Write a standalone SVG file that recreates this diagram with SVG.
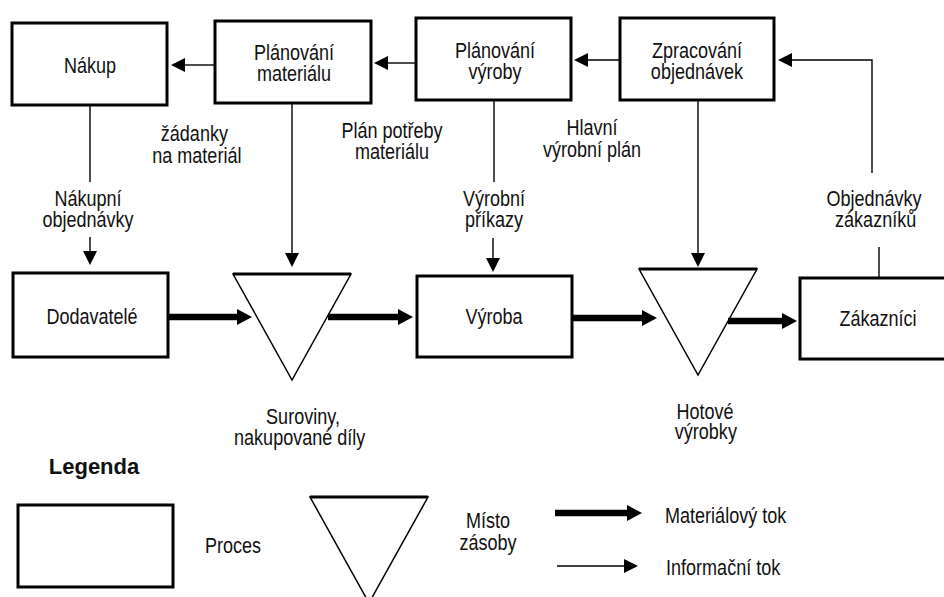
<svg xmlns="http://www.w3.org/2000/svg" width="944" height="597" viewBox="0 0 944 597">
  <style>
    .box { fill: #fff; stroke: #000; stroke-width: 3; }
    .tri { fill: #fff; stroke: #000; stroke-width: 1.5; stroke-linejoin: miter; }
    .triTop { stroke: #000; stroke-width: 3; }
    .info { fill: none; stroke: #000; stroke-width: 1.4; }
    .mat { fill: none; stroke: #000; stroke-width: 6.5; }
    text { font-family: 'Liberation Sans', Arial, sans-serif; font-size: 22px; fill: #111; }
    .c { text-anchor: middle; }
    .bold { font-weight: bold; }
  </style>
  <defs>
    <marker id="ah-info" markerUnits="userSpaceOnUse" viewBox="0 0 14 14" markerWidth="14" markerHeight="14" refX="1" refY="7" orient="auto">
      <path d="M0,0 L14,7 L0,14 z" fill="#000"/>
    </marker>
    <marker id="ah-mat" markerUnits="userSpaceOnUse" viewBox="0 0 15 16" markerWidth="15" markerHeight="16" refX="1" refY="8" orient="auto">
      <path d="M0,0 L15,8 L0,16 z" fill="#000"/>
    </marker>
  </defs>

  <rect width="944" height="597" fill="#fff"/>

  <!-- process nodes -->
  <g id="nakup">
    <rect class="box" x="12" y="23" width="155" height="82"/>
    <text class="c" transform="translate(90 73) scale(.82 1)">Nákup</text>
  </g>
  <g id="planovani-materialu">
    <rect class="box" x="215" y="21" width="156" height="82"/>
    <text class="c" transform="translate(294 0) scale(.82 1)"><tspan x="0" y="60">Plánování</tspan><tspan x="0" y="81">materiálu</tspan></text>
  </g>
  <g id="planovani-vyroby">
    <rect class="box" x="416" y="18" width="155" height="82"/>
    <text class="c" transform="translate(495 0) scale(.82 1)"><tspan x="0" y="58">Plánování</tspan><tspan x="0" y="79">výroby</tspan></text>
  </g>
  <g id="zpracovani-objednavek">
    <rect class="box" x="620" y="18" width="154" height="82"/>
    <text class="c" transform="translate(697 0) scale(.82 1)"><tspan x="0" y="58">Zpracování</tspan><tspan x="0" y="79">objednávek</tspan></text>
  </g>
  <g id="dodavatele">
    <rect class="box" x="13" y="273" width="155" height="84"/>
    <text class="c" transform="translate(92 324) scale(.82 1)">Dodavatelé</text>
  </g>
  <g id="vyroba">
    <rect class="box" x="417" y="276" width="155" height="81"/>
    <text class="c" transform="translate(494 324) scale(.82 1)">Výroba</text>
  </g>
  <g id="zakaznici">
    <rect class="box" x="800" y="278" width="156" height="81"/>
    <text class="c" transform="translate(878 326) scale(.82 1)">Zákazníci</text>
  </g>

  <!-- stock points -->
  <g id="suroviny">
    <polygon class="tri" points="233,274 351,274 292,380"/>
    <line class="triTop" x1="233" y1="274" x2="351" y2="274"/>
    <text class="c" transform="translate(303 0) scale(.82 1)"><tspan x="0" y="424">Suroviny,</tspan><tspan x="-4" y="445">nakupované díly</tspan></text>
  </g>
  <g id="hotove-vyrobky">
    <polygon class="tri" points="639,269 757,269 698,375"/>
    <line class="triTop" x1="639" y1="269" x2="757" y2="269"/>
    <text class="c" transform="translate(705 0) scale(.82 1)"><tspan x="0" y="419">Hotové</tspan><tspan x="1" y="439">výrobky</tspan></text>
  </g>

  <!-- connectors -->
  <g id="connectors">
    <!-- information flow -->
    <path class="info" d="M215,65 H184" marker-end="url(#ah-info)"/>
    <path class="info" d="M416,63 H387" marker-end="url(#ah-info)"/>
    <path class="info" d="M620,60 H587" marker-end="url(#ah-info)"/>
    <path class="info" d="M879,278 V247"/>
    <path class="info" d="M872,173 V60 H791" marker-end="url(#ah-info)"/>
    <path class="info" d="M90,105 V182"/>
    <path class="info" d="M90,237 V252" marker-end="url(#ah-info)"/>
    <path class="info" d="M292,103 V254" marker-end="url(#ah-info)"/>
    <path class="info" d="M494,100 V182"/>
    <path class="info" d="M493,238 V259" marker-end="url(#ah-info)"/>
    <path class="info" d="M698,100 V254" marker-end="url(#ah-info)"/>
    <!-- material flow -->
    <path class="mat" d="M168,317 H238" marker-end="url(#ah-mat)"/>
    <path class="mat" d="M328,317 H399" marker-end="url(#ah-mat)"/>
    <path class="mat" d="M572,318 H643" marker-end="url(#ah-mat)"/>
    <path class="mat" d="M728,321 H783" marker-end="url(#ah-mat)"/>
  </g>

  <!-- flow labels -->
  <g id="flow-labels">
    <text class="c" transform="translate(196 0) scale(.82 1)"><tspan x="-2" y="141">žádanky</tspan><tspan x="1" y="163">na materiál</tspan></text>
    <text class="c" transform="translate(392 0) scale(.82 1)"><tspan x="0" y="138">Plán potřeby</tspan><tspan x="0" y="159">materiálu</tspan></text>
    <text class="c" transform="translate(592 0) scale(.82 1)"><tspan x="0" y="135">Hlavní</tspan><tspan x="0" y="157">výrobní plán</tspan></text>
    <text class="c" transform="translate(88 0) scale(.82 1)"><tspan x="0" y="206">Nákupní</tspan><tspan x="0" y="227">objednávky</tspan></text>
    <text class="c" transform="translate(494 0) scale(.82 1)"><tspan x="0" y="206">Výrobní</tspan><tspan x="0" y="227">příkazy</tspan></text>
    <text class="c" transform="translate(874 0) scale(.82 1)"><tspan x="0" y="206">Objednávky</tspan><tspan x="2" y="227">zákazníků</tspan></text>
  </g>

  <!-- legend -->
  <g id="legend">
    <text class="c bold" transform="translate(94 474)" font-size="21">Legenda</text>
    <rect class="box" x="18" y="505" width="155" height="82"/>
    <text transform="translate(205 553) scale(.82 1)">Proces</text>
    <polygon class="tri" points="310,497 428,497 369,603"/>
    <line class="triTop" x1="310" y1="497" x2="428" y2="497"/>
    <text class="c" transform="translate(488 0) scale(.82 1)"><tspan x="0" y="528">Místo</tspan><tspan x="0" y="550">zásoby</tspan></text>
    <path class="mat" d="M555,513 H628" marker-end="url(#ah-mat)"/>
    <text transform="translate(665 523) scale(.82 1)">Materiálový tok</text>
    <path class="info" d="M557,566 H625" marker-end="url(#ah-info)"/>
    <text transform="translate(666 575) scale(.82 1)">Informační tok</text>
  </g>
</svg>
